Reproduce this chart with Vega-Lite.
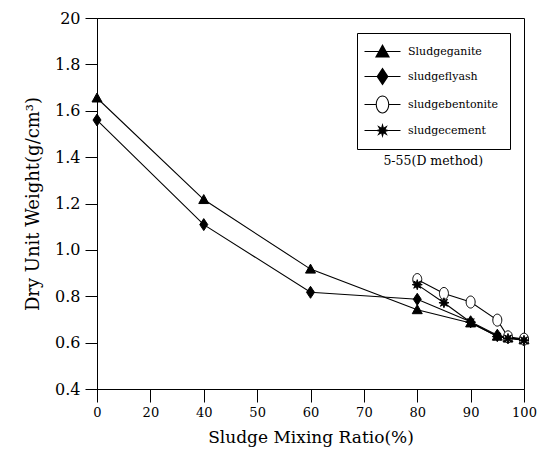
{
  "$schema": "https://vega.github.io/schema/vega-lite/v6.json",
  "width": 427,
  "height": 371,
  "autosize": {"type": "none"},
  "padding": {"left": 97, "top": 18, "right": 13, "bottom": 77},
  "background": "white",
  "config": {
    "view": {"stroke": "black", "strokeWidth": 1},
    "axis": {
      "domainColor": "black",
      "tickColor": "black",
      "labelColor": "black",
      "titleColor": "black",
      "grid": false,
      "labelFont": "DejaVu Serif",
      "titleFont": "DejaVu Serif",
      "titleFontWeight": "normal"
    }
  },
  "datasets": {
    "weights": [
      {"series": "Sludgeganite", "ratio": 0, "weight": 1.655},
      {"series": "Sludgeganite", "ratio": 40, "weight": 1.217},
      {"series": "Sludgeganite", "ratio": 60, "weight": 0.917},
      {"series": "Sludgeganite", "ratio": 80, "weight": 0.742},
      {"series": "Sludgeganite", "ratio": 90, "weight": 0.685},
      {"series": "Sludgeganite", "ratio": 95, "weight": 0.628},
      {"series": "Sludgeganite", "ratio": 97, "weight": 0.62},
      {"series": "Sludgeganite", "ratio": 100, "weight": 0.612},
      {"series": "sludgeflyash", "ratio": 0, "weight": 1.56},
      {"series": "sludgeflyash", "ratio": 40, "weight": 1.109},
      {"series": "sludgeflyash", "ratio": 60, "weight": 0.817},
      {"series": "sludgeflyash", "ratio": 80, "weight": 0.787},
      {"series": "sludgeflyash", "ratio": 90, "weight": 0.69},
      {"series": "sludgeflyash", "ratio": 95, "weight": 0.632},
      {"series": "sludgeflyash", "ratio": 97, "weight": 0.622},
      {"series": "sludgeflyash", "ratio": 100, "weight": 0.612},
      {"series": "sludgebentonite", "ratio": 80, "weight": 0.872},
      {"series": "sludgebentonite", "ratio": 85, "weight": 0.812},
      {"series": "sludgebentonite", "ratio": 90, "weight": 0.775},
      {"series": "sludgebentonite", "ratio": 95, "weight": 0.697},
      {"series": "sludgebentonite", "ratio": 97, "weight": 0.625},
      {"series": "sludgebentonite", "ratio": 100, "weight": 0.615},
      {"series": "sludgecement", "ratio": 80, "weight": 0.85},
      {"series": "sludgecement", "ratio": 85, "weight": 0.772},
      {"series": "sludgecement", "ratio": 90, "weight": 0.688},
      {"series": "sludgecement", "ratio": 95, "weight": 0.626},
      {"series": "sludgecement", "ratio": 97, "weight": 0.618},
      {"series": "sludgecement", "ratio": 100, "weight": 0.61}
    ],
    "notes": [
      {"note": "5-55(D method)"}
    ]
  },
  "resolve": {"scale": {"shape": "independent"}, "legend": {"shape": "independent"}},
  "layer": [
    {
      "data": {"name": "weights"},
      "mark": {"type": "line", "color": "black", "strokeWidth": 1.1},
      "encoding": {
        "x": {
          "field": "ratio",
          "type": "quantitative",
          "scale": {
            "type": "linear",
            "domain": [0, 40, 100],
            "range": [0, {"expr": "width / 4"}, {"expr": "width"}],
            "nice": false,
            "zero": false
          },
          "axis": {
            "title": "Sludge Mixing Ratio(%)",
            "titleFontSize": 17,
            "labelFontSize": 13,
            "values": [0, 20, 40, 50, 60, 70, 80, 90, 100],
            "tickSize": 13,
            "labelPadding": 4,
            "titlePadding": 10,
            "labelFlush": false
          }
        },
        "y": {
          "field": "weight",
          "type": "quantitative",
          "scale": {"domain": [0.4, 2.0], "nice": false, "zero": false},
          "axis": {
            "title": "Dry Unit Weight(g/cm³)",
            "titleFontSize": 18,
            "labelFontSize": 16,
            "values": [0.4, 0.6, 0.8, 1.0, 1.2, 1.4, 1.6, 1.8, 2.0],
            "labelExpr": "datum.value > 1.99 ? '20' : format(datum.value, '.1f')",
            "tickSize": 12,
            "labelPadding": 5,
            "titlePadding": 12,
            "labelFlush": false
          }
        },
        "detail": {"field": "series"},
        "order": {"field": "ratio"}
      }
    },
    {
      "data": {"name": "weights"},
      "mark": {"type": "point", "filled": true, "stroke": "black", "strokeWidth": 1, "opacity": 1, "size": 100},
      "encoding": {
        "x": {"field": "ratio", "type": "quantitative"},
        "y": {"field": "weight", "type": "quantitative"},
        "shape": {
          "field": "series",
          "type": "nominal",
          "scale": {
            "domain": ["Sludgeganite", "sludgeflyash", "sludgebentonite", "sludgecement"],
            "range": [
              "M0,-1L1,0.8L-1,0.8Z",
              "M0,-1.2L0.8,0L0,1.2L-0.8,0Z",
              "M-0.9,0A0.9,1.2 0 1,0 0.9,0A0.9,1.2 0 1,0 -0.9,0Z",
              "M1,0L0.416,0.172L0.707,0.707L0.172,0.416L0,1L-0.172,0.416L-0.707,0.707L-0.416,0.172L-1,0L-0.416,-0.172L-0.707,-0.707L-0.172,-0.416L0,-1L0.172,-0.416L0.707,-0.707L0.416,-0.172Z"
            ]
          },
          "legend": null
        },
        "fill": {
          "field": "series",
          "type": "nominal",
          "scale": {
            "domain": ["Sludgeganite", "sludgeflyash", "sludgebentonite", "sludgecement"],
            "range": ["black", "black", "white", "black"]
          },
          "legend": null
        }
      }
    },
    {
      "data": {"name": "weights"},
      "transform": [{"filter": "false"}],
      "mark": {"type": "point", "filled": true, "color": "black", "opacity": 1},
      "encoding": {
        "x": {"field": "ratio", "type": "quantitative"},
        "y": {"field": "weight", "type": "quantitative"},
        "shape": {
          "field": "series",
          "type": "nominal",
          "scale": {
            "domain": ["Sludgeganite", "sludgeflyash", "sludgebentonite", "sludgecement"],
            "range": [
              "M-2.4,-0.07H2.4V0.07H-2.4ZM0,-1L1,0.8L-1,0.8Z",
              "M-2.4,-0.07H2.4V0.07H-2.4ZM0,-1.2L0.8,0L0,1.2L-0.8,0Z",
              "M-2.4,-0.07H-0.9V0.07H-2.4ZM0.9,-0.07H2.4V0.07H0.9ZM-0.9,0A0.9,1.2 0 1,0 0.9,0A0.9,1.2 0 1,0 -0.9,0ZM-0.76,0A0.76,1.06 0 1,1 0.76,0A0.76,1.06 0 1,1 -0.76,0Z",
              "M-2.4,-0.07H2.4V0.07H-2.4ZM1,0L0.416,0.172L0.707,0.707L0.172,0.416L0,1L-0.172,0.416L-0.707,0.707L-0.416,0.172L-1,0L-0.416,-0.172L-0.707,-0.707L-0.172,-0.416L0,-1L0.172,-0.416L0.707,-0.707L0.416,-0.172Z"
            ]
          },
          "legend": {
            "title": null,
            "orient": "none",
            "legendX": 260,
            "legendY": 15,
            "padding": 11,
            "strokeColor": "black",
            "fillColor": "white",
            "symbolSize": 225,
            "symbolOffset": 7,
            "symbolFillColor": "black",
            "symbolStrokeWidth": 0,
            "labelOffset": 18,
            "rowPadding": 9,
            "labelFont": "DejaVu Serif",
            "labelFontSize": 11,
            "labelColor": "black"
          }
        }
      }
    },
    {
      "data": {"name": "notes"},
      "mark": {"type": "text", "font": "DejaVu Serif", "fontSize": 12.5, "color": "black", "align": "center", "baseline": "middle"},
      "encoding": {
        "x": {"datum": 83, "type": "quantitative"},
        "y": {"datum": 1.385, "type": "quantitative"},
        "text": {"field": "note"}
      }
    }
  ]
}
